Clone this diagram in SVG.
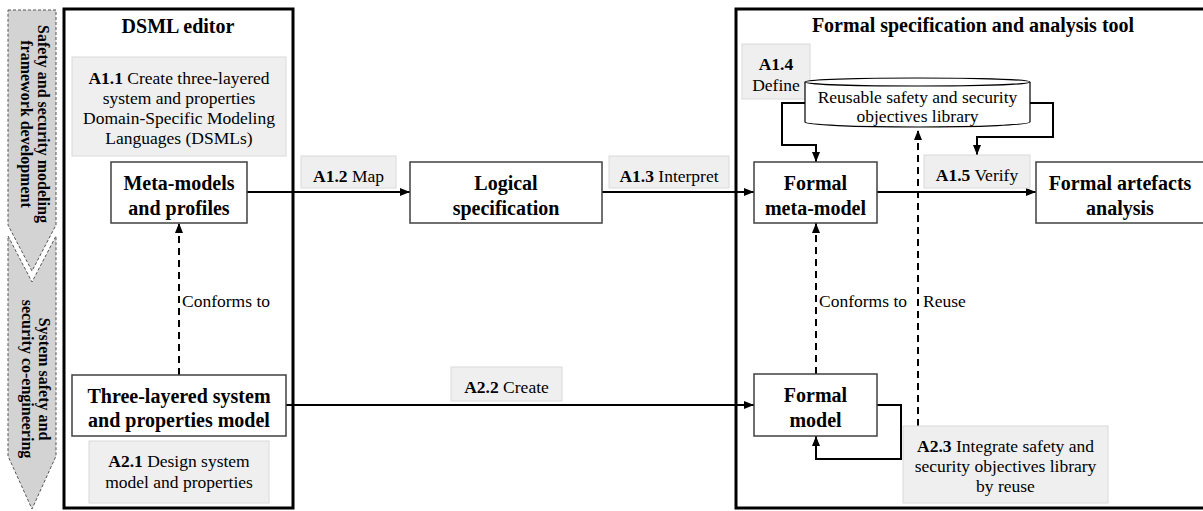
<svg xmlns="http://www.w3.org/2000/svg" width="1203" height="511" viewBox="0 0 1203 511">
  <defs>
    <marker id="arrow" markerUnits="userSpaceOnUse" markerWidth="10" markerHeight="8" refX="10" refY="4" orient="auto">
      <path d="M0,0 L10,4 L0,8 z" fill="#000"/>
    </marker>
    <style>
      text { font-family: "Liberation Serif", "Times New Roman", serif; fill: #000; }
      .title { font-size: 20px; font-weight: bold; text-anchor: middle; }
      .node { font-size: 20px; font-weight: bold; text-anchor: middle; }
      .lbl { font-size: 17.5px; text-anchor: middle; }
      .note { font-size: 17.5px; }
      .b { font-weight: bold; }
      .phase { font-size: 16px; font-weight: bold; text-anchor: middle; }
      .container { fill: #fff; stroke: #000; stroke-width: 3; }
      .box { fill: #fff; stroke: #404040; stroke-width: 1.5; }
      .tag { fill: #efefef; stroke: #dadada; stroke-width: 1; }
      .chevron { fill: #d3d3d3; stroke: #555; stroke-width: 1; stroke-dasharray: 3 2; }
      .flow { fill: none; stroke: #000; stroke-width: 2; marker-end: url(#arrow); }
      .dash { fill: none; stroke: #000; stroke-width: 2; stroke-dasharray: 7 5; marker-end: url(#arrow); }
    </style>
  </defs>

  <rect width="1203" height="511" fill="#fff"/>

  <!-- process phases -->
  <g id="phase-framework">
    <polygon class="chevron" points="8,10 56,10 56,225 32,271 8,225"/>
    <text class="phase" transform="translate(35,124) rotate(90)"><tspan x="0" y="-3">Safety and security modeling</tspan><tspan x="0" y="14">framework development</tspan></text>
  </g>
  <g id="phase-coengineering">
    <polygon class="chevron" points="8,236 32,282 56,236 56,456 32,509 8,456"/>
    <text class="phase" transform="translate(36,379) rotate(90)"><tspan x="0" y="-3">System safety and</tspan><tspan x="0" y="14">security co-engineering</tspan></text>
  </g>

  <!-- tool containers -->
  <g id="dsml-editor">
    <rect class="container" x="64" y="9" width="229" height="499"/>
    <text class="title" x="178" y="33">DSML editor</text>
  </g>
  <g id="formal-tool">
    <rect class="container" x="736" y="9" width="470" height="499"/>
    <text class="title" x="973" y="32">Formal specification and analysis tool</text>
  </g>

  <!-- connectors -->
  <g id="connectors">
    <path class="flow" d="M247,192 H410"/>
    <path class="flow" d="M602,192 H754"/>
    <path class="flow" d="M877,192 H1036"/>
    <path class="flow" d="M286,405 H754"/>
    <path class="dash" d="M179,375 V223"/>
    <path class="dash" d="M816,374 V223"/>
    <path class="dash" d="M918,426 V130"/>
    <path class="flow" d="M805,103 H782 V145 H816 V162"/>
    <path class="flow" d="M1030,103 H1053 V137 H977 V155"/>
    <path class="flow" d="M877,405 H901 V459 H816 V436"/>
    <text class="note" x="182" y="307">Conforms to</text>
    <text class="note" x="819" y="307">Conforms to</text>
    <text class="note" x="923" y="307">Reuse</text>
  </g>

  <!-- activity tags -->
  <g id="a11">
    <rect class="tag" x="72" y="57" width="214" height="99"/>
    <text class="lbl" x="179" y="84"><tspan class="b">A1.1</tspan> Create three-layered</text>
    <text class="lbl" x="179" y="104">system and properties</text>
    <text class="lbl" x="179" y="124">Domain-Specific Modeling</text>
    <text class="lbl" x="179" y="144">Languages (DSMLs)</text>
  </g>
  <g id="a12">
    <rect class="tag" x="301" y="156" width="95" height="32"/>
    <text class="lbl" x="348.5" y="181.5"><tspan class="b">A1.2</tspan> Map</text>
  </g>
  <g id="a13">
    <rect class="tag" x="609" y="156" width="120" height="32"/>
    <text class="lbl" x="669" y="181.5"><tspan class="b">A1.3</tspan> Interpret</text>
  </g>
  <g id="a14">
    <rect class="tag" x="742" y="44" width="68" height="55"/>
    <text class="lbl b" x="776" y="70">A1.4</text>
    <text class="lbl" x="776" y="91">Define</text>
  </g>
  <g id="a15">
    <rect class="tag" x="924" y="155" width="106" height="33"/>
    <text class="lbl" x="977" y="181"><tspan class="b">A1.5</tspan> Verify</text>
  </g>
  <g id="a21">
    <rect class="tag" x="89" y="441" width="180" height="62"/>
    <text class="lbl" x="179" y="467"><tspan class="b">A2.1</tspan> Design system</text>
    <text class="lbl" x="179" y="488">model and properties</text>
  </g>
  <g id="a22">
    <rect class="tag" x="451" y="367" width="111" height="34"/>
    <text class="lbl" x="506.5" y="392.5"><tspan class="b">A2.2</tspan> Create</text>
  </g>
  <g id="a23">
    <rect class="tag" x="903" y="426" width="205" height="77"/>
    <text class="lbl" x="1005.5" y="452"><tspan class="b">A2.3</tspan> Integrate safety and</text>
    <text class="lbl" x="1005.5" y="472">security objectives library</text>
    <text class="lbl" x="1005.5" y="492">by reuse</text>
  </g>

  <!-- nodes -->
  <g id="meta-models">
    <rect class="box" x="111" y="162" width="136" height="61"/>
    <text class="node" x="179" y="190">Meta-models</text>
    <text class="node" x="179" y="215">and profiles</text>
  </g>
  <g id="logical-spec">
    <rect class="box" x="410" y="162" width="192" height="61"/>
    <text class="node" x="506" y="190">Logical</text>
    <text class="node" x="506" y="215">specification</text>
  </g>
  <g id="formal-meta-model">
    <rect class="box" x="754" y="162" width="123" height="61"/>
    <text class="node" x="815.5" y="190">Formal</text>
    <text class="node" x="815.5" y="215">meta-model</text>
  </g>
  <g id="artefacts-analysis">
    <rect class="box" x="1036" y="162" width="170" height="61"/>
    <text class="node" x="1120" y="190">Formal artefacts</text>
    <text class="node" x="1120" y="215">analysis</text>
  </g>
  <g id="system-model">
    <rect class="box" x="72" y="375" width="214" height="61"/>
    <text class="node" x="179" y="403">Three-layered system</text>
    <text class="node" x="179" y="427">and properties model</text>
  </g>
  <g id="formal-model">
    <rect class="box" x="754" y="374" width="123" height="62"/>
    <text class="node" x="815.5" y="402">Formal</text>
    <text class="node" x="815.5" y="427">model</text>
  </g>
  <g id="objectives-library">
    <path d="M805,82 V122 A112.5,5 0 0 0 1030,122 V82" fill="#fff" stroke="#000" stroke-width="1.2"/>
    <ellipse cx="917.5" cy="82" rx="112.5" ry="4" fill="#fff" stroke="#000" stroke-width="1.2"/>
    <text class="lbl" x="917.5" y="103">Reusable safety and security</text>
    <text class="lbl" x="917.5" y="122">objectives library</text>
  </g>
</svg>
